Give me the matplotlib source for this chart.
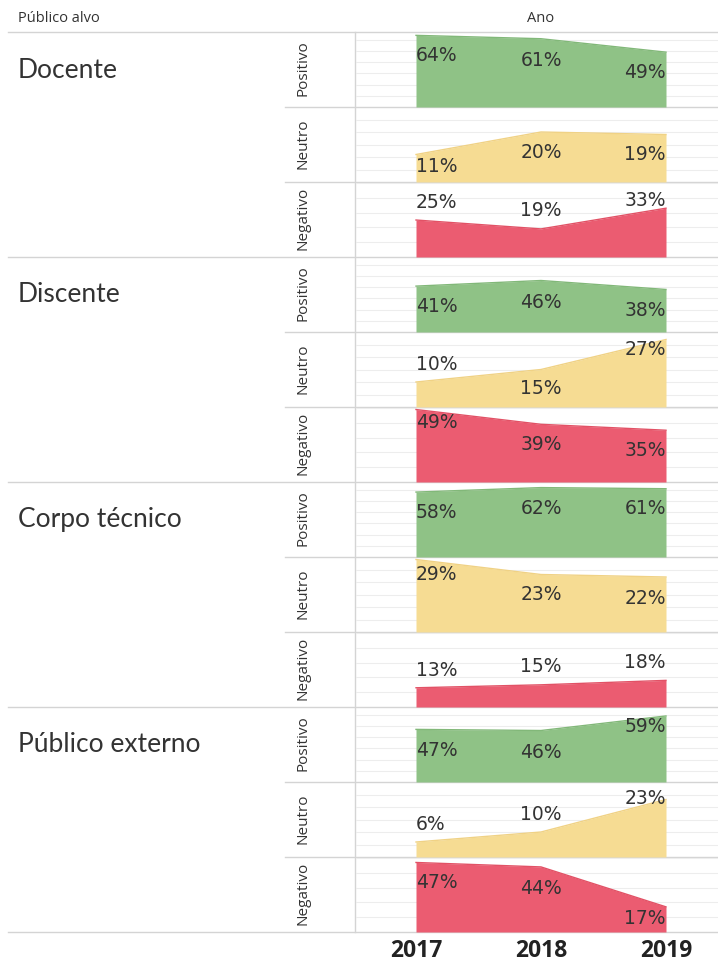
import matplotlib
matplotlib.use("Agg")
import matplotlib.pyplot as plt
from matplotlib.transforms import blended_transform_factory

# ---- data -------------------------------------------------------------
years = [2017, 2018, 2019]
year_labels = ["2017", "2018", "2019"]
groups = ["Docente", "Discente", "Corpo técnico", "Público externo"]
sentiments = ["Positivo", "Neutro", "Negativo"]

docente_pos = [64, 61, 49]
docente_neu = [11, 20, 19]
docente_neg = [25, 19, 33]

discente_pos = [41, 46, 38]
discente_neu = [10, 15, 27]
discente_neg = [49, 39, 35]

corpo_pos = [58, 62, 61]
corpo_neu = [29, 23, 22]
corpo_neg = [13, 15, 18]

externo_pos = [47, 46, 59]
externo_neu = [6, 10, 23]
externo_neg = [47, 44, 17]

series = [
    [docente_pos, docente_neu, docente_neg],
    [discente_pos, discente_neu, discente_neg],
    [corpo_pos, corpo_neu, corpo_neg],
    [externo_pos, externo_neu, externo_neg],
]

# ---- layout / style ---------------------------------------------------
W, H = 718, 964
ROW_H = 75
TOP = 32
PLOT_L, PLOT_R = 356, 718
X_LIM = (2016.52, 2019.416)
Y_MAX = {"Positivo": 67, "Neutro": 30, "Negativo": 50.7}
GRID_STEP = {"Positivo": 10, "Neutro": 5, "Negativo": 10}
FILL = {"Positivo": "#8fc286", "Neutro": "#f6dc93", "Negativo": "#eb5c71"}
EDGE = {"Positivo": "#82b879", "Neutro": "#f0d285", "Negativo": "#e25266"}

# vertical position of each value label, in pixels below the top of its row
label_rows = [
    [[23, 28, 41], [60, 46, 48], [20, 29, 18]],
    [[49, 45, 53], [32, 57, 17], [16, 38, 44]],
    [[30, 26, 27], [18, 38, 41], [39, 35, 31]],
    [[43, 45, 19], [42, 32, 17], [26, 31, 61]],
]

TEXT = "#333333"
LINE = "#d4d4d4"

fig = plt.figure(figsize=(W / 100, H / 100), dpi=100)
bg = fig.add_axes([0, 0, 1, 1])
bg.set_xlim(0, W)
bg.set_ylim(H, 0)
bg.axis("off")

# header
bg.text(18, 18, "Público alvo", fontsize=10.5, color=TEXT, va="center",
        ha="left", family="Open Sans")
bg.text(541, 18, "Ano", fontsize=10.5, color=TEXT, va="center", ha="center",
        family="Open Sans")
bg.plot([8, W], [TOP, TOP], color=LINE, lw=1)

# separators
for g in range(len(groups)):
    gtop = TOP + g * 3 * ROW_H
    for r in range(1, 3):
        y = gtop + r * ROW_H
        bg.plot([285, W], [y, y], color=LINE, lw=1)
    y = gtop + 3 * ROW_H
    bg.plot([8, W], [y, y], color=LINE, lw=1)
bg.plot([PLOT_L - 1, PLOT_L - 1], [TOP, TOP + 12 * ROW_H], color=LINE, lw=1)

axes_list = []
for g, name in enumerate(groups):
    gtop = TOP + g * 3 * ROW_H
    bg.text(18, gtop + 38, name, fontsize=19, color=TEXT, va="center",
            ha="left", family="Lato")
    for r, sent in enumerate(sentiments):
        rtop = gtop + r * ROW_H
        bg.text(303, rtop + ROW_H / 2 - 1, sent, rotation=90, fontsize=11,
                color=TEXT, va="center", ha="center", family="Open Sans")

        ax = fig.add_axes([PLOT_L / W, 1 - (rtop + ROW_H) / H,
                           (PLOT_R - PLOT_L) / W, ROW_H / H])
        ax.set_facecolor("none")
        ax.set_xlim(*X_LIM)
        ax.set_ylim(0, Y_MAX[sent])
        for spine in ax.spines.values():
            spine.set_visible(False)
        ax.set_yticks([])
        step = GRID_STEP[sent]
        v = step
        while v < Y_MAX[sent]:
            ax.axhline(v, color="#ededed", lw=0.8, zorder=0)
            v += step

        vals = series[g][r]
        ax.fill_between(years, vals, 0, color=FILL[sent], lw=0, zorder=2)
        ax.plot(years, vals, color=EDGE[sent], lw=1, zorder=3)

        tr = blended_transform_factory(ax.transData, ax.transAxes)
        for i, (yr, val) in enumerate(zip(years, vals)):
            ha = ["left", "center", "right"][i]
            ax.text(yr, 1 - label_rows[g][r][i] / ROW_H, f"{val}%",
                    transform=tr, ha=ha, va="center", fontsize=13.5,
                    color=TEXT, family="DejaVu Sans", zorder=4)
        axes_list.append(ax)

for ax in axes_list[:-1]:
    ax.set_xticks([])
last = axes_list[-1]
last.set_xticks(years)
last.set_xticklabels(year_labels, fontsize=16.5, fontweight="bold",
                     color="#222222", family="Open Sans")
last.tick_params(axis="x", length=0, pad=5)

fig.savefig("out.png", dpi=100)
